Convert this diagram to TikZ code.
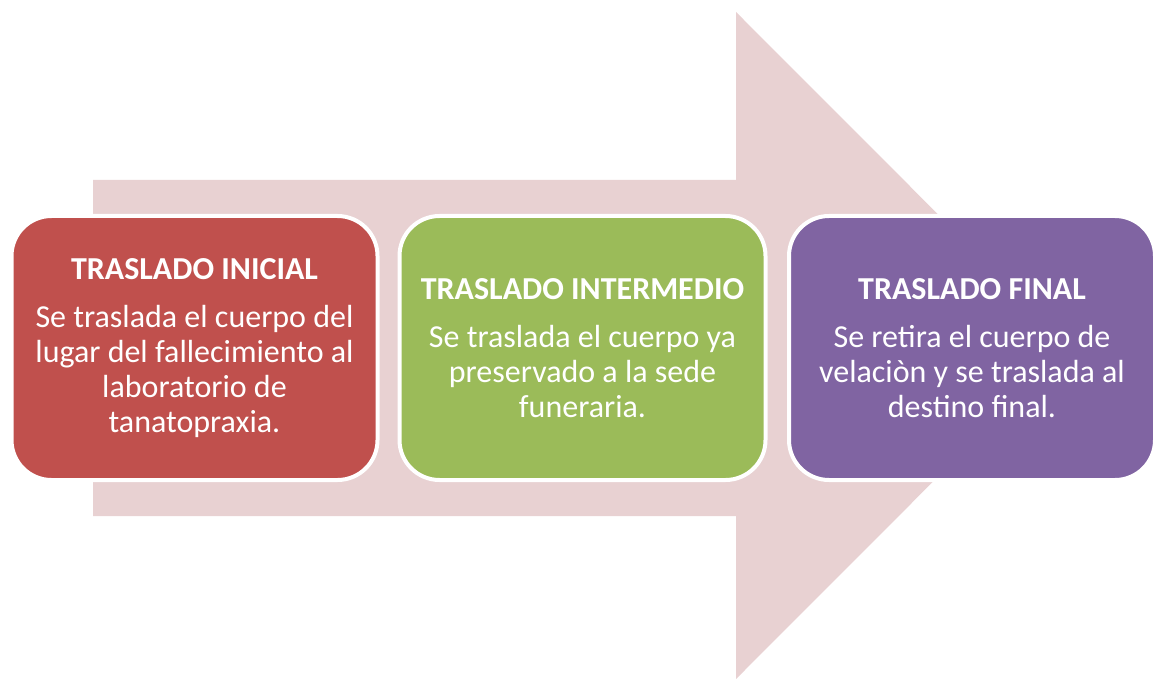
\documentclass[tikz,border=0pt]{standalone}
\usepackage{fontspec}
\setmainfont{Carlito}
\definecolor{arrowfill}{HTML}{E8D1D2}
\definecolor{redbox}{HTML}{C0504D}
\definecolor{greenbox}{HTML}{9BBB59}
\definecolor{purplebox}{HTML}{8064A2}
\tikzset{
  stagebox/.style={draw=white, line width=4pt, rounded corners=40pt,
    minimum width=366pt, minimum height=264pt, align=center, text=white,
    inner sep=0pt, font=\fontsize{32}{35}\selectfont},
}
\newcommand{\stitle}[1]{{\bfseries\fontsize{32}{35}\selectfont #1}\\[13pt]}
\begin{document}
\begin{tikzpicture}[x=1pt,y=-1pt]
\useasboundingbox (0,0) rectangle (1154,679);
\fill[arrowfill] (93,180) -- (736,180) -- (736,12) -- (1069,345.5) -- (736,679) -- (736,516) -- (93,516) -- cycle;
\node[stagebox, fill=redbox] (box1) at (194.5,348) {\stitle{TRASLADO INICIAL}Se traslada el cuerpo del\\lugar del fallecimiento al\\laboratorio de\\tanatopraxia.};
\node[stagebox, fill=greenbox] (box2) at (582.5,348) {\stitle{TRASLADO INTERMEDIO}Se traslada el cuerpo ya\\preservado a la sede\\funeraria.};
\node[stagebox, fill=purplebox] (box3) at (972,348) {\stitle{TRASLADO FINAL}Se retira el cuerpo de\\velaciòn y se traslada al\\destino final.};
\end{tikzpicture}
\end{document}
